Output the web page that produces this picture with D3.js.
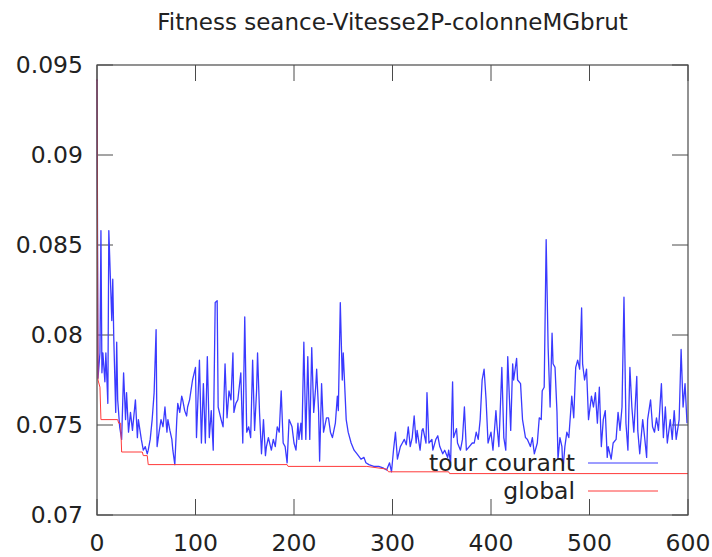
<!DOCTYPE html>
<html>
<head>
<meta charset="utf-8">
<script src="https://cdn.jsdelivr.net/npm/d3@7"></script>
<style>
  html, body { margin: 0; padding: 0; background: #fff; }
  svg { display: block; }
</style>
</head>
<body>
<div id="chart"></div>
<script>
// Fitness per iteration — blue = current round, red = global best
const chartTitle = 'Fitness seance-Vitesse2P-colonneMGbrut';

const courantIter = [
  0, 1, 3, 4, 5, 6, 8, 9, 11, 12, 15, 16, 17, 19, 20, 21, 23, 25, 27, 29,
  30, 32, 34, 36, 39, 41, 42, 45, 47, 49, 51, 52, 54, 56, 58, 60, 61, 63, 65, 67,
  69, 71, 72, 74, 76, 77, 79, 81, 82, 84, 86, 87, 89, 91, 92, 94, 97, 100, 101, 104,
  106, 108, 110, 112, 114, 116, 118, 120, 122, 123, 126, 128, 130, 132, 134, 136, 138, 139, 141, 143,
  146, 148, 150, 152, 154, 156, 158, 160, 162, 163, 165, 167, 169, 171, 172, 174, 177, 179, 181, 183,
  185, 187, 189, 191, 193, 195, 198, 200, 202, 204, 205, 207, 208, 210, 212, 214, 216, 218, 220, 222,
  223, 225, 226, 228, 230, 233, 235, 237, 239, 242, 244, 245, 247, 249, 250, 253, 255, 258, 261, 264,
  268, 271, 273, 276, 281, 286, 291, 294, 297, 299, 301, 303, 305, 308, 310, 312, 314, 316, 318, 320,
  322, 324, 325, 328, 330, 331, 334, 335, 337, 340, 341, 344, 346, 348, 351, 353, 356, 357, 359, 361,
  362, 365, 366, 369, 371, 373, 375, 378, 381, 383, 385, 387, 389, 391, 393, 395, 397, 400, 402, 405,
  406, 408, 411, 413, 415, 417, 420, 422, 423, 426, 427, 430, 432, 435, 437, 440, 442, 444, 447, 449,
  451, 452, 454, 456, 458, 460, 462, 463, 465, 467, 468, 470, 472, 473, 475, 477, 479, 482, 484, 486,
  488, 490, 492, 493, 495, 497, 499, 502, 504, 506, 508, 510, 512, 514, 516, 518, 519, 522, 524, 527,
  529, 531, 533, 535, 537, 539, 541, 543, 545, 548, 549, 551, 554, 556, 558, 559, 562, 564, 566, 568,
  570, 573, 575, 577, 579, 582, 584, 586, 588, 591, 593, 595, 597, 599
];
const courantVal = [
  0.0942, 0.0776, 0.0790, 0.0858, 0.0779, 0.0790, 0.0774, 0.0790, 0.0762, 0.0858, 0.0808, 0.0831, 0.0799, 0.0757, 0.0796, 0.0764, 0.0749, 0.0742, 0.0779, 0.0753,
  0.0768, 0.0746, 0.0757, 0.0747, 0.0764, 0.0743, 0.0753, 0.0742, 0.0736, 0.0738, 0.0734, 0.0736, 0.0742, 0.0753, 0.0768, 0.0803, 0.0738, 0.0746, 0.0753, 0.0749,
  0.0760, 0.0746, 0.0753, 0.0747, 0.0742, 0.0736, 0.0728, 0.0753, 0.0762, 0.0757, 0.0766, 0.0764, 0.0758, 0.0755, 0.0760, 0.0764, 0.0775, 0.0782, 0.0743, 0.0786,
  0.0740, 0.0773, 0.0740, 0.0788, 0.0743, 0.0758, 0.0736, 0.0818, 0.0819, 0.0760, 0.0753, 0.0749, 0.0784, 0.0754, 0.0769, 0.0764, 0.0790, 0.0757, 0.0762, 0.0764,
  0.0779, 0.0740, 0.0810, 0.0746, 0.0749, 0.0743, 0.0786, 0.0747, 0.0769, 0.0790, 0.0757, 0.0734, 0.0753, 0.0733, 0.0738, 0.0743, 0.0736, 0.0742, 0.0738, 0.0749,
  0.0746, 0.0769, 0.0740, 0.0738, 0.0729, 0.0753, 0.0749, 0.0740, 0.0736, 0.0751, 0.0742, 0.0751, 0.0742, 0.0796, 0.0742, 0.0788, 0.0742, 0.0793, 0.0757, 0.0771,
  0.0781, 0.0757, 0.0730, 0.0773, 0.0746, 0.0754, 0.0754, 0.0746, 0.0743, 0.0751, 0.0766, 0.0758, 0.0818, 0.0775, 0.0790, 0.0753, 0.0746, 0.0740, 0.0736, 0.0734,
  0.0731, 0.0732, 0.0729, 0.0728, 0.0727, 0.0727, 0.0726, 0.0725, 0.0729, 0.0724, 0.0736, 0.0746, 0.0731, 0.0738, 0.0740, 0.0742, 0.0739, 0.0749, 0.0738, 0.0743,
  0.0755, 0.0740, 0.0747, 0.0736, 0.0747, 0.0748, 0.0740, 0.0768, 0.0740, 0.0742, 0.0736, 0.0742, 0.0744, 0.0738, 0.0734, 0.0736, 0.0732, 0.0736, 0.0729, 0.0774,
  0.0743, 0.0748, 0.0740, 0.0736, 0.0742, 0.0760, 0.0736, 0.0738, 0.0740, 0.0740, 0.0746, 0.0742, 0.0753, 0.0775, 0.0781, 0.0764, 0.0740, 0.0746, 0.0736, 0.0758,
  0.0750, 0.0738, 0.0782, 0.0743, 0.0736, 0.0788, 0.0747, 0.0784, 0.0775, 0.0787, 0.0775, 0.0773, 0.0753, 0.0743, 0.0742, 0.0738, 0.0743, 0.0734, 0.0740, 0.0754,
  0.0753, 0.0769, 0.0771, 0.0853, 0.0793, 0.0760, 0.0801, 0.0784, 0.0782, 0.0757, 0.0731, 0.0743, 0.0738, 0.0725, 0.0738, 0.0746, 0.0743, 0.0766, 0.0754, 0.0782,
  0.0786, 0.0781, 0.0815, 0.0784, 0.0775, 0.0781, 0.0753, 0.0766, 0.0760, 0.0768, 0.0751, 0.0771, 0.0738, 0.0753, 0.0758, 0.0732, 0.0738, 0.0731, 0.0740, 0.0742,
  0.0757, 0.0747, 0.0760, 0.0821, 0.0751, 0.0736, 0.0782, 0.0760, 0.0746, 0.0777, 0.0747, 0.0734, 0.0753, 0.0743, 0.0732, 0.0753, 0.0764, 0.0749, 0.0746, 0.0754,
  0.0747, 0.0773, 0.0743, 0.0760, 0.0740, 0.0753, 0.0742, 0.0758, 0.0742, 0.0753, 0.0792, 0.0760, 0.0773, 0.0751
];

const globalIter = [0, 1, 3, 4, 21, 22, 24, 25, 46, 47, 51, 52, 193, 194, 274, 294, 296, 357, 358, 600];
const globalVal = [0.0942, 0.0775, 0.0771, 0.0753, 0.0753, 0.0751, 0.0751, 0.0735, 0.0735, 0.0733, 0.0733, 0.0728, 0.0728, 0.0727, 0.0727, 0.07255, 0.0724, 0.0724, 0.0723, 0.0723];

const xTicks = [0, 100, 200, 300, 400, 500, 600];
const yTicks = [0.07, 0.075, 0.08, 0.085, 0.09, 0.095];
const yTickLabels = ['0.07', '0.075', '0.08', '0.085', '0.09', '0.095'];

const seriesNames = ['tour courant', 'global'];
const seriesColors = ['#3a3aff', '#ff3a3a'];

const width = 712;
const height = 557;
const margin = { top: 65, right: 24, bottom: 42, left: 97 };
const font = 'DejaVu Sans, sans-serif';
const fontSize = '23.5px';
const textColor = '#222';
const frameColor = '#4a4a4a';

const svg = d3.select('#chart')
  .append('svg')
  .attr('width', width)
  .attr('height', height);

const x = d3.scaleLinear().domain([0, 600]).range([margin.left, width - margin.right]);
const y = d3.scaleLinear().domain([0.07, 0.095]).range([height - margin.bottom, margin.top]);

const x0 = x.range()[0], x1 = x.range()[1];
const y0 = y.range()[0], y1 = y.range()[1];
const tickLen = 16;

// ticks pointing inward, mirrored on all four sides
const ticks = svg.append('g')
  .attr('stroke', frameColor)
  .attr('stroke-width', 1);

xTicks.forEach(t => {
  ticks.append('line').attr('x1', x(t)).attr('x2', x(t)).attr('y1', y0).attr('y2', y0 - tickLen);
  ticks.append('line').attr('x1', x(t)).attr('x2', x(t)).attr('y1', y1).attr('y2', y1 + tickLen);
});
yTicks.forEach(t => {
  ticks.append('line').attr('x1', x0).attr('x2', x0 + tickLen).attr('y1', y(t)).attr('y2', y(t));
  ticks.append('line').attr('x1', x1).attr('x2', x1 - tickLen).attr('y1', y(t)).attr('y2', y(t));
});

// tick labels (kept just inside the bottom edge)
svg.append('g').selectAll('text')
  .data(xTicks)
  .join('text')
  .attr('x', d => x(d))
  .attr('y', height - 6)
  .attr('text-anchor', 'middle')
  .attr('font-family', font)
  .attr('font-size', fontSize)
  .attr('fill', textColor)
  .text(d => d);

svg.append('g').selectAll('text')
  .data(yTicks)
  .join('text')
  .attr('x', x0 - 14)
  .attr('y', d => y(d))
  .attr('dy', '0.36em')
  .attr('text-anchor', 'end')
  .attr('font-family', font)
  .attr('font-size', fontSize)
  .attr('fill', textColor)
  .text((d, i) => yTickLabels[i]);

// series
const line = d3.line()
  .x(d => x(d[0]))
  .y(d => y(d[1]));

const courant = courantIter.map((it, i) => [it, courantVal[i]]);
const global = globalIter.map((it, i) => [it, globalVal[i]]);

svg.append('path')
  .datum(courant)
  .attr('fill', 'none')
  .attr('stroke', seriesColors[0])
  .attr('stroke-width', 1.3)
  .attr('stroke-linejoin', 'round')
  .attr('d', line);

svg.append('path')
  .datum(global)
  .attr('fill', 'none')
  .attr('stroke', seriesColors[1])
  .attr('stroke-width', 1)
  .attr('d', line);

// legend (no box)
const legendRight = 575;
const legendTop = 463;
const legendGap = 28;
seriesNames.forEach((name, i) => {
  const ly = legendTop + i * legendGap;
  svg.append('text')
    .attr('x', legendRight)
    .attr('y', ly)
    .attr('dy', '0.36em')
    .attr('text-anchor', 'end')
    .attr('font-family', font)
    .attr('font-size', fontSize)
    .attr('fill', textColor)
    .text(name);
  svg.append('line')
    .attr('x1', 588).attr('x2', 658)
    .attr('y1', ly).attr('y2', ly)
    .attr('stroke', seriesColors[i])
    .attr('stroke-width', 1);
});

// frame
svg.append('rect')
  .attr('x', x0).attr('y', y1)
  .attr('width', x1 - x0).attr('height', y0 - y1)
  .attr('fill', 'none')
  .attr('stroke', frameColor)
  .attr('stroke-width', 1.2);

// title
svg.append('text')
  .attr('x', (x0 + x1) / 2)
  .attr('y', 30)
  .attr('text-anchor', 'middle')
  .attr('font-family', font)
  .attr('font-size', '23px')
  .attr('fill', textColor)
  .text(chartTitle);
</script>
